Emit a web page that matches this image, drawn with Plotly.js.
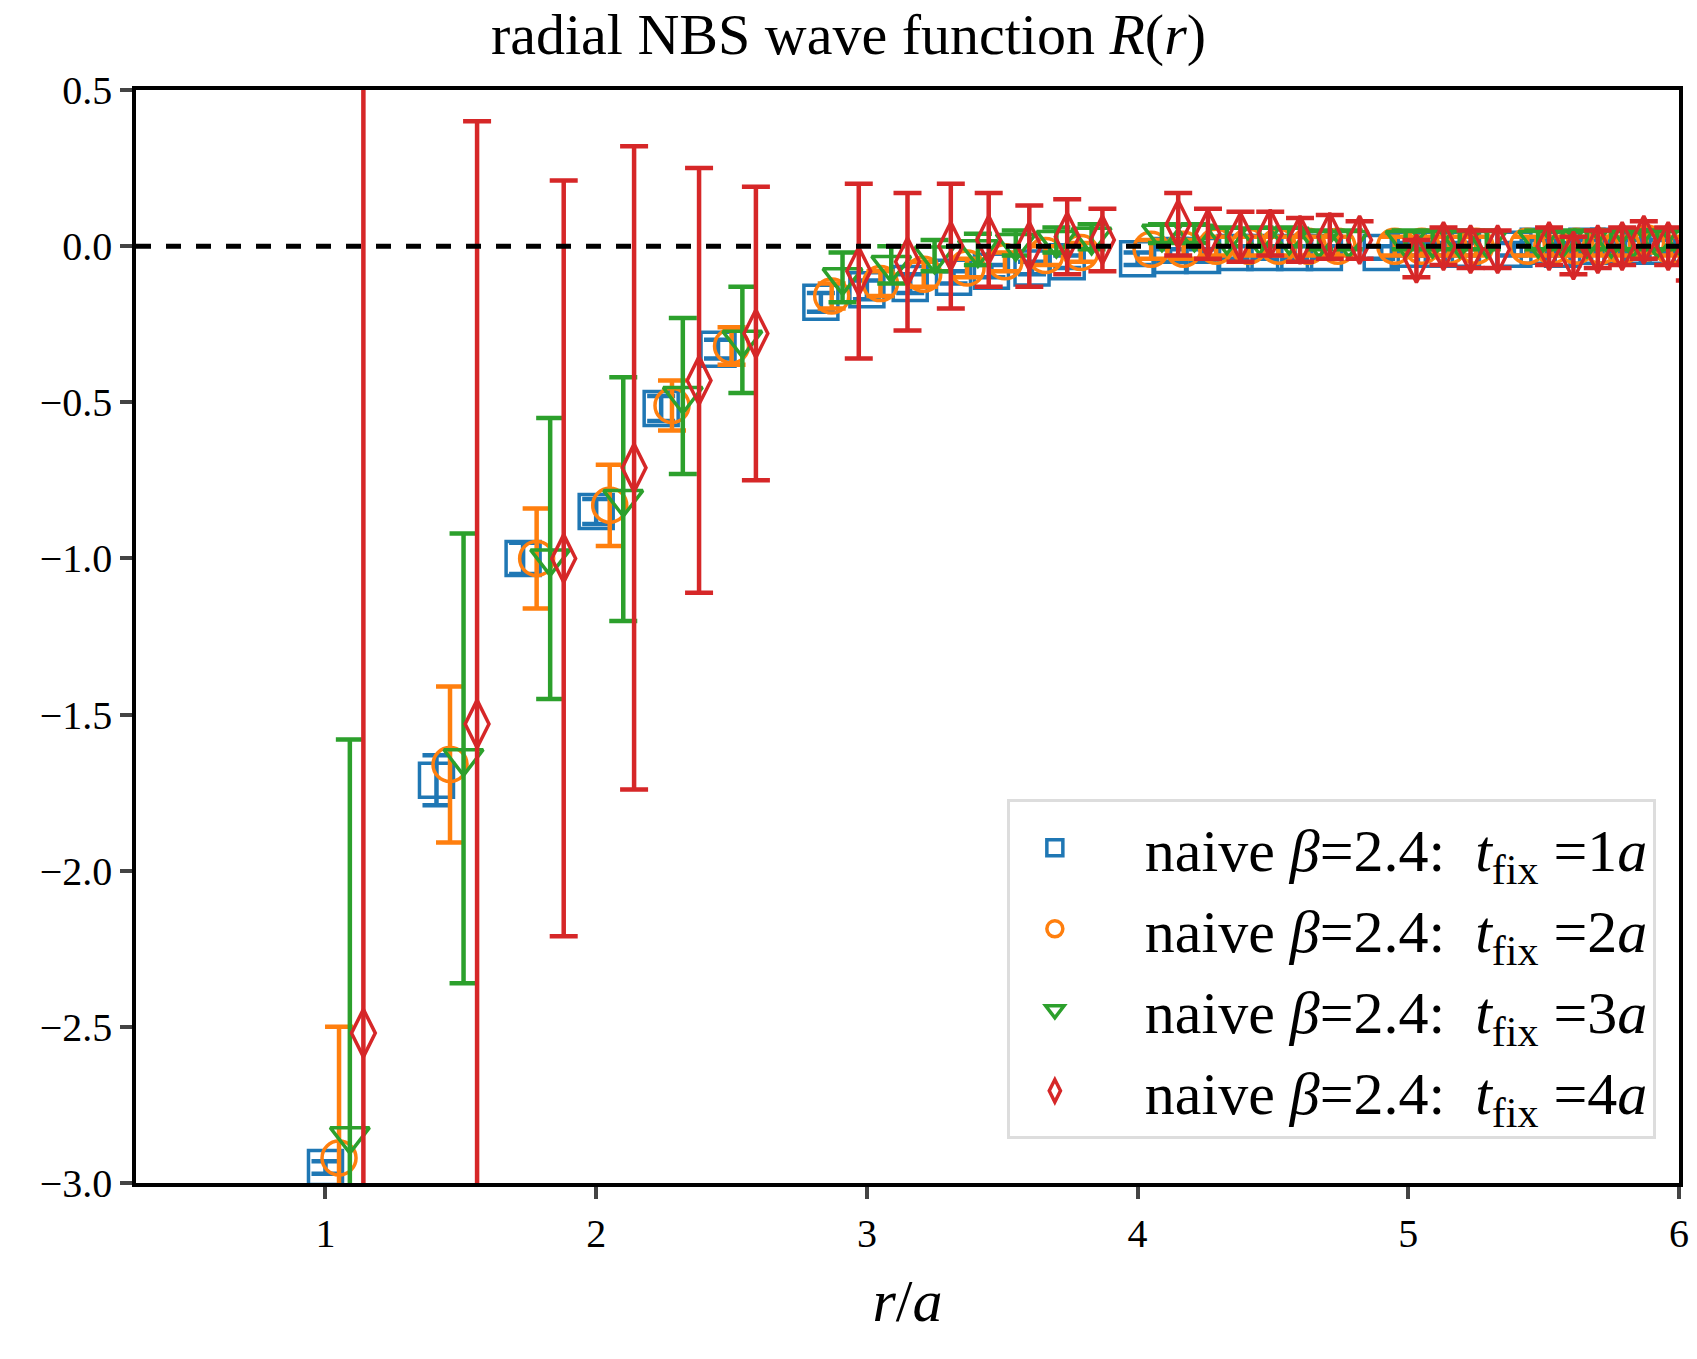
<!DOCTYPE html>
<html>
<head>
<meta charset="utf-8">
<script src="https://cdn.plot.ly/plotly-3.0.1.min.js"></script>
<style>body{margin:0;background:#fff}</style>
</head>
<body>
<div id="plot" style="width:1697px;height:1359px"></div>
<script>
// t_fix = 1a
const r1 = [1.0, 1.41, 1.73, 2.0, 2.24, 2.45, 2.83, 3.0, 3.16, 3.32, 3.46, 3.61, 3.74, 4.0, 4.12, 4.24, 4.36, 4.47, 4.58, 4.69, 4.9, 5.0, 5.1, 5.2, 5.39, 5.48, 5.57, 5.66, 5.74, 5.83, 5.92];
const y1 = [-2.95, -1.71, -1.0, -0.85, -0.52, -0.33, -0.18, -0.14, -0.12, -0.1, -0.08, -0.07, -0.05, -0.04, -0.03, -0.03, -0.02, -0.02, -0.02, -0.02, -0.02, -0.01, -0.01, -0.01, -0.01, 0.0, -0.01, 0.0, 0.0, 0.0, 0.0];
const e1 = [0.02, 0.08, 0.05, 0.04, 0.04, 0.03, 0.03, 0.03, 0.03, 0.02, 0.02, 0.02, 0.02, 0.02, 0.02, 0.02, 0.02, 0.02, 0.02, 0.02, 0.02, 0.02, 0.02, 0.02, 0.02, 0.02, 0.02, 0.02, 0.02, 0.02, 0.02];
// t_fix = 2a
const r2 = [1.05, 1.46, 1.78, 2.05, 2.28, 2.5, 2.87, 3.05, 3.21, 3.37, 3.51, 3.66, 3.79, 4.05, 4.17, 4.29, 4.41, 4.52, 4.63, 4.74, 4.95, 5.05, 5.15, 5.25, 5.44, 5.53, 5.62, 5.71, 5.79, 5.88, 5.97];
const y2 = [-2.92, -1.66, -1.0, -0.83, -0.51, -0.32, -0.16, -0.12, -0.09, -0.07, -0.05, -0.03, -0.02, -0.01, -0.01, 0.0, 0.0, 0.0, 0.0, 0.0, 0.0, 0.0, 0.0, 0.0, 0.0, 0.0, 0.0, 0.0, 0.0, 0.01, 0.0];
const e2 = [0.42, 0.25, 0.16, 0.13, 0.08, 0.06, 0.04, 0.04, 0.04, 0.03, 0.03, 0.03, 0.03, 0.03, 0.03, 0.03, 0.03, 0.03, 0.03, 0.03, 0.03, 0.03, 0.03, 0.03, 0.03, 0.03, 0.03, 0.03, 0.03, 0.03, 0.03];
// t_fix = 3a
const r3 = [1.09, 1.51, 1.83, 2.1, 2.32, 2.54, 2.91, 3.09, 3.25, 3.41, 3.55, 3.7, 3.83, 4.09, 4.21, 4.33, 4.45, 4.56, 4.67, 4.78, 4.99, 5.09, 5.19, 5.29, 5.48, 5.57, 5.66, 5.75, 5.83, 5.92, 6.01];
const y3 = [-2.85, -1.64, -1.0, -0.81, -0.48, -0.3, -0.1, -0.06, -0.03, -0.01, 0.01, 0.02, 0.03, 0.04, 0.04, 0.03, 0.03, 0.03, 0.02, 0.02, 0.02, 0.02, 0.02, 0.02, 0.02, 0.02, 0.02, 0.02, 0.02, 0.02, 0.02];
const e3 = [1.27, 0.72, 0.45, 0.39, 0.25, 0.17, 0.08, 0.06, 0.05, 0.05, 0.04, 0.04, 0.04, 0.03, 0.03, 0.03, 0.03, 0.03, 0.03, 0.03, 0.03, 0.03, 0.03, 0.03, 0.03, 0.03, 0.03, 0.03, 0.03, 0.03, 0.03];
// t_fix = 4a
const r4 = [1.14, 1.56, 1.88, 2.14, 2.38, 2.59, 2.97, 3.15, 3.31, 3.45, 3.6, 3.74, 3.87, 4.15, 4.26, 4.38, 4.49, 4.6, 4.71, 4.82, 5.03, 5.13, 5.23, 5.33, 5.52, 5.61, 5.7, 5.79, 5.87, 5.96, 6.04];
const y4 = [-2.52, -1.53, -1.0, -0.71, -0.43, -0.28, -0.08, -0.05, 0.0, 0.02, 0.0, 0.03, 0.02, 0.07, 0.04, 0.03, 0.04, 0.02, 0.03, 0.02, -0.04, 0.0, -0.01, -0.01, 0.0, -0.03, -0.01, 0.0, 0.02, 0.0, -0.05];
const e4 = [3.5, 1.93, 1.21, 1.03, 0.68, 0.47, 0.28, 0.22, 0.2, 0.15, 0.13, 0.12, 0.1, 0.1, 0.08, 0.08, 0.07, 0.07, 0.07, 0.06, 0.06, 0.06, 0.06, 0.06, 0.06, 0.06, 0.06, 0.06, 0.06, 0.06, 0.06];

const labels = ['1', '2', '3', '4'];
const colors = ['#1f77b4', '#ff7f0e', '#2ca02c', '#d62728'];
const symbols = ['square-open', 'circle-open', 'triangle-down-open', 'diamond-tall-open'];
const xs = [r1, r2, r3, r4];
const ys = [y1, y2, y3, y4];
const es = [e1, e2, e3, e4];

let data = [];
for (let i = 0; i < 4; i++) {
  data.push({
    x: xs[i], y: ys[i], type: 'scatter', mode: 'markers', cliponaxis: true,
    name: '   naive <i>β</i>=2.4:  <i>t</i><sub>fix</sub> =' + labels[i] + '<i>a</i>',
    marker: {symbol: symbols[i], size: 34, color: colors[i], line: {width: 3.5, color: colors[i]}},
    error_y: {type: 'data', array: es[i], visible: true, color: colors[i], thickness: 4.5, width: 14}
  });
}

const font = {family: '"Liberation Serif", "DejaVu Serif", serif', color: '#000'};

var layout = {
  width: 1697, height: 1359,
  margin: {l: 136, r: 18, t: 90, b: 176},
  paper_bgcolor: '#fff', plot_bgcolor: '#fff',
  showlegend: true,
  font: Object.assign({size: 40}, font),
  title: {text: 'radial NBS wave function <i>R</i>(<i>r</i>)', x: 0.5, xanchor: 'center', y: 0.99, yanchor: 'top', font: Object.assign({size: 58}, font)},
  xaxis: {
    range: [0.3, 6], tickvals: [1, 2, 3, 4, 5, 6], ticks: 'outside', ticklen: 12, tickwidth: 3.5,
    showgrid: false, zeroline: false, showline: true, mirror: true, linewidth: 3.5, linecolor: '#000',
    tickfont: Object.assign({size: 40}, font),
    title: {text: '<i>r</i>/<i>a</i>', font: Object.assign({size: 60}, font), standoff: 25}
  },
  yaxis: {
    range: [-3, 0.5], tickvals: [-3, -2.5, -2, -1.5, -1, -0.5, 0, 0.5],
    ticktext: ['−3.0', '−2.5', '−2.0', '−1.5', '−1.0', '−0.5', '0.0', '0.5'],
    ticks: 'outside', ticklen: 12, tickwidth: 3.5,
    showgrid: false, zeroline: false, showline: true, mirror: true, linewidth: 3.5, linecolor: '#000',
    tickfont: Object.assign({size: 40}, font)
  },
  shapes: [{type: 'line', xref: 'paper', x0: 0, x1: 1, yref: 'y', y0: 0, y1: 0, line: {color: '#000', width: 5, dash: 'dash'}}],
  legend: {
    x: 0.985, xanchor: 'right', y: 0.04, yanchor: 'bottom',
    bgcolor: 'rgba(255,255,255,0.85)', bordercolor: '#ddd', borderwidth: 3,
    font: Object.assign({size: 60}, font), itemwidth: 80, tracegroupgap: 22
  }
};

Plotly.newPlot('plot', data, layout, {displayModeBar: false});
</script>
</body>
</html>
